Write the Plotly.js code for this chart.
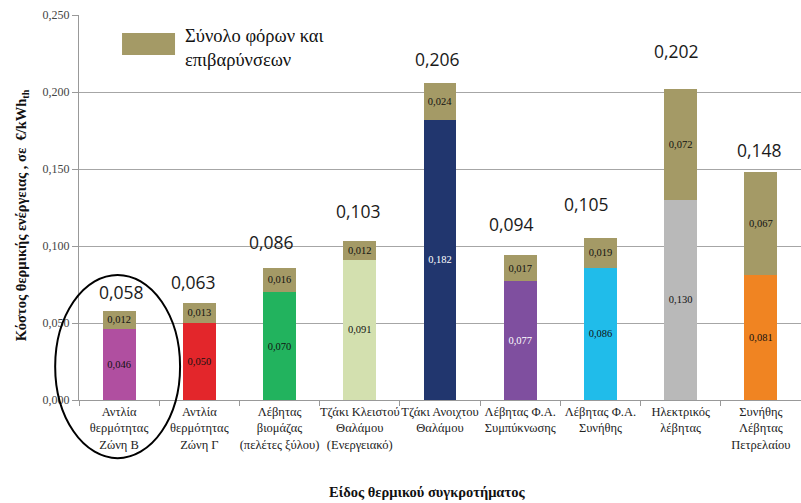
<!DOCTYPE html>
<html>
<head>
<meta charset="utf-8">
<script src="https://cdn.plot.ly/plotly-3.0.1.min.js"></script>
<style>html,body{margin:0;padding:0;background:#fff;}#chart{width:801px;height:503px;}</style>
</head>
<body>
<div id="chart"></div>
<script>
// ---- data ----
var categories = [
  "Αντλία<br>θερμότητας<br>Ζώνη Β",
  "Αντλία<br>θερμότητας<br>Ζώνη Γ",
  "Λέβητας<br>βιομάζας<br>(πελέτες ξύλου)",
  "Τζάκι Κλειστού<br>Θαλάμου<br>(Ενεργειακό)",
  "Τζάκι Ανοιχτου<br>Θαλάμου",
  "Λέβητας Φ.Α.<br>Συμπύκνωσης",
  "Λέβητας Φ.Α.<br>Συνήθης",
  "Ηλεκτρικός<br>λέβητας",
  "Συνήθης<br>Λέβητας<br>Πετρελαίου"
];
var baseCost = [0.046, 0.050, 0.070, 0.091, 0.182, 0.077, 0.086, 0.130, 0.081];
var taxCost  = [0.012, 0.013, 0.016, 0.012, 0.024, 0.017, 0.019, 0.072, 0.067];
var totalCost = [0.058, 0.063, 0.086, 0.103, 0.206, 0.094, 0.105, 0.202, 0.148];
var legendLabel = "Σύνολο φόρων και<br>επιβαρύνσεων";
var yTitle = "Κόστος θερμικής ενέργειας , σε  €/kWh<sub>th</sub>";
var xTitle = "Είδος θερμικού συγκροτήματος";

// ---- style ----
var barColors = ["#B04FA0", "#E3262B", "#22B35E", "#D3E0AF", "#21366E", "#7F4F9F", "#20BCEA", "#B9B9B9", "#F08422"];
var baseTextColors = ["#111", "#111", "#111", "#111", "#fff", "#fff", "#111", "#111", "#111"];
var taxColor = "#A49A66";
// pixel offsets of the total labels relative to the bar tops (as placed in the original)
var totalLabelDy = [19, 21, 26, 30, 24, 31, 34, 38, 22];
var totalLabelDx = [2, -6, -8, -1, -3, -9, -14, -4, -1];

function fmt(v) { return v.toFixed(3).replace('.', ','); }

var serif = "Liberation Serif, Times New Roman, serif";
var sans = "Open Sans, Noto Sans, sans-serif";

var traces = [
  {
    type: 'bar', x: categories, y: baseCost, width: 0.41,
    marker: {color: barColors},
    text: baseCost.map(fmt), textposition: 'inside', insidetextanchor: 'middle',
    textfont: {family: serif, size: 10.5, color: baseTextColors},
    constraintext: 'none', hoverinfo: 'skip', showlegend: false
  },
  {
    type: 'bar', x: categories, y: taxCost, width: 0.41,
    marker: {color: taxColor},
    text: taxCost.map(fmt), textposition: 'inside', insidetextanchor: 'middle',
    textfont: {family: serif, size: 10.5, color: "#111"},
    constraintext: 'none', hoverinfo: 'skip', showlegend: false
  }
];

var annotations = totalCost.map(function (v, i) {
  return {
    x: categories[i], y: v, xref: 'x', yref: 'y',
    text: fmt(v), showarrow: false, yanchor: 'middle', xanchor: 'center',
    yshift: totalLabelDy[i], xshift: totalLabelDx[i],
    font: {family: sans, size: 17.5, color: "#1a1a1a"}
  };
});
annotations.push({
  x: 0.144, y: 0.976, xref: 'paper', yref: 'paper', xanchor: 'left', yanchor: 'top',
  text: legendLabel, showarrow: false, align: 'left',
  font: {family: serif, size: 18.5, color: "#111"}
});
annotations.push({
  x: 0.482, y: -0.239, xref: 'paper', yref: 'paper', xanchor: 'center', yanchor: 'middle',
  text: "<b>" + xTitle + "</b>", showarrow: false,
  font: {family: serif, size: 14.5, color: "#111"}
});
annotations.push({
  x: -0.079, y: 0.48, xref: 'paper', yref: 'paper', xanchor: 'center', yanchor: 'middle',
  text: "<b>" + yTitle + "</b>", showarrow: false, textangle: -90,
  font: {family: serif, size: 14.5, color: "#111"}
});

var shapes = [
  {type: 'rect', xref: 'paper', yref: 'paper', x0: 0.0596, x1: 0.133, y0: 0.896, y1: 0.953,
   fillcolor: taxColor, line: {width: 0}},
  {type: 'circle', xref: 'paper', yref: 'paper', x0: -0.033, x1: 0.140, y0: -0.151, y1: 0.325,
   line: {color: "#000", width: 2}, layer: 'above'}
];

var layout = {
  width: 801, height: 503,
  margin: {l: 79, r: 0, t: 15, b: 103},
  barmode: 'stack',
  separators: ',.',
  paper_bgcolor: '#fff', plot_bgcolor: '#fff',
  showlegend: false,
  xaxis: {
    type: 'category', tickson: 'boundaries', ticks: 'outside', ticklen: 5,
    tickcolor: '#999', showline: true, linecolor: '#999', linewidth: 1,
    tickangle: 0, automargin: false,
    tickfont: {family: serif, size: 12.5, color: '#222'},
    showgrid: false, range: [-0.5, 8.5], fixedrange: true
  },
  yaxis: {
    range: [0, 0.25], dtick: 0.05, tickformat: '.3f',
    showgrid: true, gridcolor: '#A6A6A6', gridwidth: 1,
    showline: true, linecolor: '#999', linewidth: 1,
    ticks: 'outside', ticklen: 6, tickcolor: '#999', automargin: false,
    tickfont: {family: serif, size: 12, color: '#444'},
    zeroline: false
  },
  annotations: annotations,
  shapes: shapes
};

Plotly.newPlot('chart', traces, layout, {displayModeBar: false, staticPlot: true});
</script>
</body>
</html>
